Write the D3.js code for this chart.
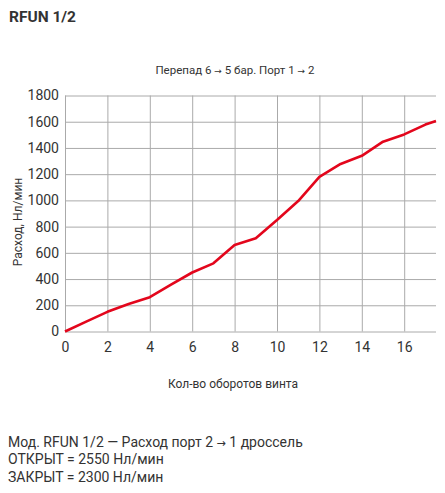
<!DOCTYPE html>
<html lang="ru">
<head>
    <meta charset="UTF-8">
    <title>RFUN 1/2</title>
    <script src="https://d3js.org/d3.v7.min.js"></script>
    <style>
        body { margin: 0; background: #fff; }
        text { font-family: Roboto, "Noto Sans", sans-serif; fill: #333; white-space: pre; }
        tspan.arrow { font-family: "DejaVu Sans", sans-serif; font-size: 0.8em; }
    </style>
</head>
<body>
    <svg width="445" height="493"></svg>
    <script>
        // Flow vs. screw turns
        const turns = [0, 1, 2, 3, 4, 5, 6, 7, 8, 9, 10, 11, 12, 13, 14, 15, 16, 17, 17.5];
        const flow = [0, 75, 150, 210, 262, 358, 450, 520, 660, 712, 850, 995, 1180, 1278, 1340, 1448, 1503, 1578, 1605];
        const xTicks = [0, 2, 4, 6, 8, 10, 12, 14, 16];
        const yTicks = [0, 200, 400, 600, 800, 1000, 1200, 1400, 1600, 1800];
        const notes = [
            "Мод. RFUN 1/2 — Расход порт 2 → 1 дроссель",
            "ОТКРЫТ = 2550 Нл/мин",
            "ЗАКРЫТ = 2300 Нл/мин"
        ];

        const svg = d3.select("svg");
        const margin = { top: 95.5, right: 9, bottom: 161.5, left: 65 };
        const width = svg.attr("width") - margin.left - margin.right;
        const height = svg.attr("height") - margin.top - margin.bottom;

        const g = svg.append("g")
            .attr("transform", `translate(${margin.left},${margin.top})`);

        const x = d3.scaleLinear().domain([0, 17.5]).range([0, width]);
        const y = d3.scaleLinear().domain([0, 1800]).range([height, 0]);

        // grid + axes
        const yAxis = g.append("g")
            .call(d3.axisLeft(y).tickValues(yTicks).tickFormat(d3.format("d"))
                .tickSize(-width).tickPadding(6));
        const xAxis = g.append("g")
            .attr("transform", `translate(0,${height})`)
            .call(d3.axisBottom(x).tickValues(xTicks).tickFormat(d3.format("d"))
                .tickSize(-height).tickPadding(11));

        [xAxis, yAxis].forEach(a => {
            a.select(".domain").remove();
            a.selectAll(".tick line").attr("stroke", "#aaa").attr("stroke-width", 1);
            a.selectAll(".tick text")
                .attr("font-family", "Roboto, sans-serif")
                .attr("font-size", "14px")
                .attr("fill", "#333");
        });

        // flow line
        const line = d3.line()
            .x((d, i) => x(turns[i]))
            .y(d => y(d));

        g.append("path")
            .datum(flow)
            .attr("fill", "none")
            .attr("stroke", "#e3061c")
            .attr("stroke-width", 2.6)
            .attr("stroke-linejoin", "round")
            .attr("d", line);

        // text with the arrows set in a font whose arrow is short
        function arrowText(sel, str) {
            str.split("→").forEach((part, i) => {
                if (i > 0) sel.append("tspan").attr("class", "arrow").text("→");
                sel.append("tspan").text(part);
            });
        }

        svg.append("text")
            .attr("x", 9)
            .attr("y", 21.7)
            .attr("font-size", "15.5px")
            .attr("font-weight", "bold")
            .text("RFUN 1/2");

        svg.append("text")
            .attr("x", 235)
            .attr("y", 74)
            .attr("text-anchor", "middle")
            .attr("font-size", "11.5px")
            .call(arrowText, "Перепад 6 → 5 бар. Порт 1 → 2");

        svg.append("text")
            .attr("x", 233)
            .attr("y", 388)
            .attr("text-anchor", "middle")
            .attr("font-size", "12px")
            .text("Кол-во оборотов винта");

        svg.append("text")
            .attr("transform", "rotate(-90)")
            .attr("x", -222)
            .attr("y", 21.5)
            .attr("text-anchor", "middle")
            .attr("font-size", "12px")
            .text("Расход, Нл/мин");

        svg.selectAll(".note")
            .data(notes)
            .enter()
            .append("text")
                .attr("class", "note")
                .attr("x", 8)
                .attr("y", (d, i) => 446.7 + i * 17.5)
                .attr("font-size", "14px")
                .each(function (d) { arrowText(d3.select(this), d); });
    </script>
</body>
</html>
